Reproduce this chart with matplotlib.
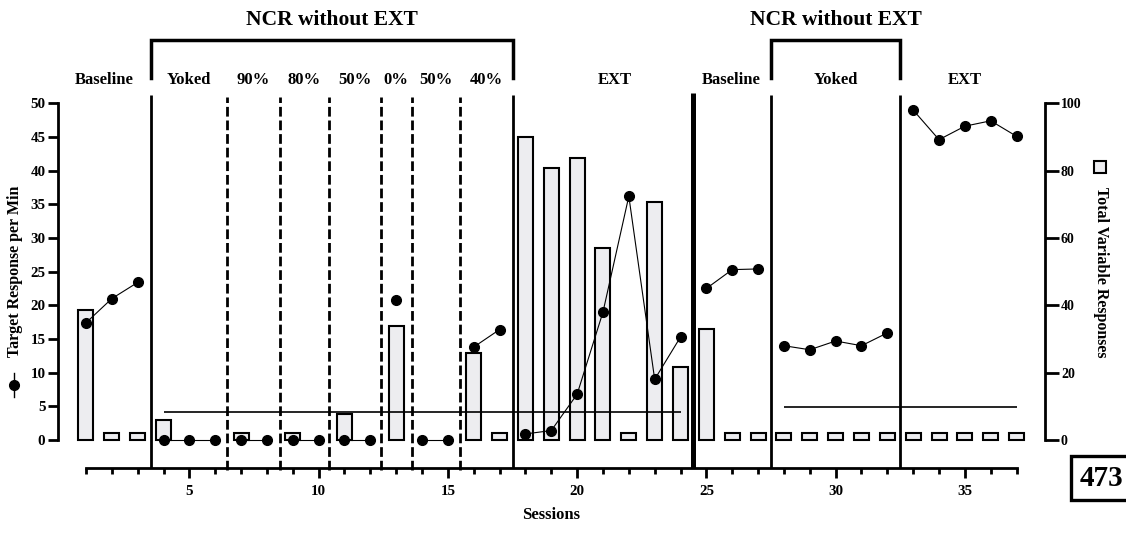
import matplotlib
matplotlib.use('Agg')
import matplotlib.pyplot as plt
from matplotlib.lines import Line2D

plt.rcParams['font.family'] = ['Liberation Serif', 'DejaVu Serif']
plt.rcParams['font.weight'] = 'bold'

# data
sessions = list(range(1, 38))
target_rate = [17.4, 21.0, 23.4, 0, 0, 0, 0, 0, 0, 0, 0, 0, 20.8, 0, 0, 13.8, 16.4,
               0.9, 1.4, 6.8, 19.0, 36.2, 9.0, 15.3,
               22.5, 25.3, 25.4,
               14.0, 13.4, 14.7, 14.0, 15.9,
               49.0, 44.6, 46.6, 47.4, 45.1]
variable_resp = [38.6, 2, 2, 5.8, 0, 0, 2, 0, 2, 0, 7.8, 0, 33.8, 0, 0, 25.8, 2,
                 90, 80.8, 83.7, 57, 2, 70.8, 21.8,
                 33, 2, 2,
                 2, 2, 2, 2, 2,
                 2, 2, 2, 2, 2]
# sessions that belong together (dots joined by a line)
phase_runs = [(1, 3), (4, 6), (7, 8), (9, 10), (11, 12), (13, 13), (14, 15),
              (16, 17), (18, 24), (25, 27), (28, 32), (33, 37)]
phase_names = ['Baseline', 'Yoked', '90%', '80%', '50%', '0%', '50%', '40%',
               'EXT', 'Baseline', 'Yoked', 'EXT']
criterion = [(4, 24, 4.1), (28, 37, 4.95)]

# layout
label_x = [1.71, 4.97, 7.47, 9.45, 11.4, 13.0, 14.52, 16.48, 21.45, 25.95, 30.0, 35.0]
solid_lines = [3.5, 17.5, 27.5, 32.5]
thick_line = 24.5
dashed_lines = [6.45, 8.5, 10.4, 12.4, 13.6, 15.45]
brackets = [(3.5, 17.5), (27.5, 32.5)]

W, H = 1126, 535
fig = plt.figure(figsize=(W / 100, H / 100), dpi=100)
ax = fig.add_axes([58 / W, (H - 468) / H, 987 / W, (468 - 103.3) / H])
ax.set_xlim(-0.083, 38.10)
ax.set_ylim(-4.16, 50)
ax2 = ax.twinx()
ax2.set_ylim(-8.32, 100)
ax.set_zorder(ax2.get_zorder() + 1)
ax.patch.set_visible(False)

for s in ['top', 'right']:
    ax.spines[s].set_visible(False)
for s in ['top', 'left', 'bottom']:
    ax2.spines[s].set_visible(False)
ax.spines['left'].set_bounds(0, 50)
ax.spines['bottom'].set_bounds(1, 37)
ax2.spines['right'].set_bounds(0, 100)
for sp in [ax.spines['left'], ax.spines['bottom'], ax2.spines['right']]:
    sp.set_linewidth(2)

ax.set_yticks(range(0, 51, 5))
ax.set_xticks(range(5, 36, 5))
ax.set_xticks(sessions, minor=True)
ax.tick_params(axis='y', length=7, width=2, pad=2, labelsize=10.8)
ax.tick_params(axis='x', which='major', length=7.5, width=2, pad=5, labelsize=10.8)
ax.tick_params(axis='x', which='minor', length=4.3, width=2)
ax2.set_yticks(range(0, 101, 20))
ax2.tick_params(axis='y', length=10, width=2, pad=1.5, labelsize=10)

# bars (right axis)
bx = [s for s, v in zip(sessions, variable_resp) if v > 0]
bv = [v for v in variable_resp if v > 0]
ax2.bar(bx, bv, width=0.58, color='#ededf0', edgecolor='black', linewidth=1.5)

# dots (left axis)
for a, b in phase_runs:
    xs = sessions[a - 1:b]
    ys = target_rate[a - 1:b]
    ax.plot(xs, ys, color='black', lw=0.8, marker='o', ms=7, zorder=4, clip_on=False)

for a, b, y in criterion:
    ax.hlines(y, a, b, colors='black', lw=1.2, zorder=3)

# phase change lines
ax.vlines(solid_lines, -4.16, 51.26, colors='black', lw=2, clip_on=False)
ax.vlines(thick_line, -4.16, 51.56, colors='black', lw=3.6, clip_on=False)
ax.vlines(dashed_lines, -4.46, 50.97, colors='black', lw=2,
          linestyles=(0, (3.5, 1.4)), clip_on=False)

for a, b in brackets:
    ax.plot([a, a, b, b], [53.8, 59.44, 59.44, 53.8], color='black', lw=2.5,
            clip_on=False, solid_joinstyle='miter')
    ax.text((a + b) / 2, 62.4, 'NCR without EXT', ha='center', va='center',
            fontsize=15.5, clip_on=False)

for x, name in zip(label_x, phase_names):
    ax.text(x, 53.5, name, ha='center', va='center', fontsize=12, clip_on=False)

# axis titles with their legend symbols
fig.text(15 / W, (H - 271) / H, 'Target Response per Min', rotation=90,
         ha='center', va='center', fontsize=11.5)
fig.add_artist(Line2D([14 / W, 14 / W], [(H - 373) / H, (H - 397) / H],
                      color='black', lw=1, transform=fig.transFigure))
fig.add_artist(Line2D([14 / W], [(H - 385) / H], marker='o', ms=7,
                      color='black', transform=fig.transFigure))
fig.text(1101 / W, (H - 272.5) / H, 'Total Variable Responses', rotation=-90,
         ha='center', va='center', fontsize=11.5)
fig.add_artist(Line2D([1100 / W], [(H - 166.7) / H], marker='s', ms=8,
                      mfc='#ededf0', mec='black', mew=1.5, transform=fig.transFigure))
fig.text(551 / W, 20 / H, 'Sessions', ha='center', va='center', fontsize=12)

fig.text(1101 / W, (H - 478) / H, '473', ha='center', va='center', fontsize=21,
         bbox=dict(boxstyle='square,pad=0.28', fc='white', ec='black', lw=2.4))

fig.savefig('out.png', dpi=100)
